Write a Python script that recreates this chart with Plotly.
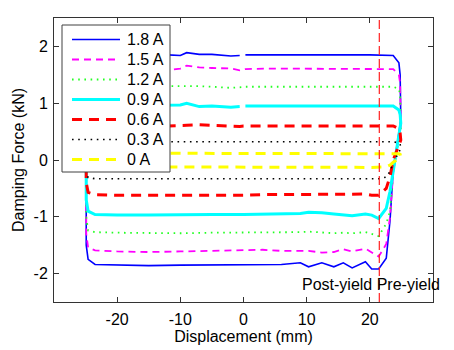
import plotly.graph_objects as go

# ---- data ----
CURRENTS = ["1.8 A", "1.5 A", "1.2 A", "0.9 A", "0.6 A", "0.3 A", "0 A"]

# displacement (mm) along the loop: upper branch (moving right), right turn, lower branch (moving left)
X_UPPER = [-24.9, -24.3, -20, -15, -12, -10, -9, -7, -5, -2, -0.6, 0, 0.3, 4, 8, 12, 16, 20, 23.7, 24.6]
X_TURN = [24.8, 24.9, 23.7, 23.2, 22.6]
X_LOWER = [21.4, 20.3, 19.3, 17.2, 15.8, 14.3, 12.4, 10.3, 9, 6, 3, 0, -5, -10, -15, -20, -23.5, -24.6, -24.9]

# damping force (kN)
F18_UP = [1.60, 1.83, 1.85, 1.86, 1.85, 1.84, 1.89, 1.86, 1.86, 1.83, 1.84, None, 1.85, 1.85, 1.86, 1.85, 1.85, 1.85, 1.84, 1.71]
F18_TURN = [1.50, 0.70, -0.18, -1.06, -1.73]
F18_LO = [-1.92, -1.92, -1.79, -1.90, -1.81, -1.88, -1.81, -1.88, -1.81, -1.84, -1.84, -1.84, -1.85, -1.85, -1.86, -1.85, -1.84, -1.75, -1.50]

F15_UP = [1.40, 1.60, 1.60, 1.60, 1.58, 1.61, 1.66, 1.63, 1.62, 1.61, 1.58, 1.59, 1.60, 1.61, 1.61, 1.61, 1.61, 1.61, 1.60, 1.50]
F15_TURN = [1.35, 0.60, -0.20, -1.00, -1.48]
F15_LO = [-1.70, -1.62, -1.56, -1.61, -1.57, -1.62, -1.63, -1.60, -1.60, -1.60, -1.58, -1.59, -1.60, -1.61, -1.62, -1.61, -1.59, -1.54, -1.30]

F12_UP = [1.10, 1.29, 1.30, 1.30, 1.31, 1.31, 1.31, 1.30, 1.29, 1.27, 1.28, 1.29, 1.29, 1.29, 1.29, 1.29, 1.29, 1.29, 1.29, 1.25]
F12_TURN = [1.15, 0.55, -0.20, -0.90, -1.12]
F12_LO = [-1.34, -1.30, -1.27, -1.29, -1.28, -1.29, -1.28, -1.26, -1.27, -1.27, -1.28, -1.28, -1.28, -1.29, -1.29, -1.28, -1.27, -1.24, -1.00]

F09_UP = [0.80, 0.95, 0.96, 0.96, 0.96, 0.97, 1.00, 0.94, 0.95, 0.93, 0.94, None, 0.95, 0.95, 0.95, 0.95, 0.95, 0.95, 0.95, 0.88]
F09_TURN = [0.80, 0.65, -0.19, -0.55, -0.85]
F09_LO = [-1.03, -0.97, -0.95, -0.98, -0.96, -0.95, -0.93, -0.92, -0.94, -0.95, -0.95, -0.96, -0.96, -0.97, -0.97, -0.97, -0.96, -0.90, -0.70]

F06_UP = [0.45, 0.60, 0.60, 0.61, 0.60, 0.60, 0.61, 0.62, 0.61, 0.60, 0.59, 0.60, 0.60, 0.60, 0.60, 0.60, 0.60, 0.60, 0.60, 0.55]
F06_TURN = [0.47, 0.35, 0.00, -0.29, -0.50]
F06_LO = [-0.62, -0.62, -0.60, -0.60, -0.60, -0.61, -0.60, -0.60, -0.60, -0.61, -0.61, -0.62, -0.62, -0.63, -0.63, -0.62, -0.61, -0.57, -0.40]

F03_UP = [0.25, 0.32, 0.32, 0.32, 0.32, 0.32, 0.33, 0.32, 0.32, 0.32, 0.32, 0.32, 0.32, 0.32, 0.32, 0.32, 0.32, 0.32, 0.32, 0.30]
F03_TURN = [0.28, 0.20, -0.05, -0.20, -0.30]
F03_LO = [-0.33, -0.33, -0.33, -0.33, -0.33, -0.33, -0.33, -0.33, -0.33, -0.33, -0.33, -0.33, -0.33, -0.33, -0.33, -0.33, -0.33, -0.31, -0.20]

F00_UP = [0.08, 0.12, 0.12, 0.12, 0.12, 0.12, 0.12, 0.12, 0.12, 0.12, 0.12, 0.12, 0.12, 0.12, 0.12, 0.12, 0.12, 0.12, 0.12, 0.11]
F00_TURN = [0.10, 0.05, -0.04, -0.09, -0.12]
F00_LO = [-0.13, -0.13, -0.13, -0.13, -0.13, -0.13, -0.13, -0.13, -0.13, -0.13, -0.13, -0.13, -0.13, -0.13, -0.13, -0.13, -0.13, -0.12, -0.08]

X_TICKS = [-20, -10, 0, 10, 20]
X_TICK_LABELS = ["-20", "-10", "0", "10", "20"]
Y_TICKS = [-2, -1, 0, 1, 2]
Y_TICK_LABELS = ["-2", "-1", "0", "1", "2"]

POST_YIELD_LIMIT = 21.5  # mm, boundary marker

SERIES = [
    (F18_UP, F18_TURN, F18_LO),
    (F15_UP, F15_TURN, F15_LO),
    (F12_UP, F12_TURN, F12_LO),
    (F09_UP, F09_TURN, F09_LO),
    (F06_UP, F06_TURN, F06_LO),
    (F03_UP, F03_TURN, F03_LO),
    (F00_UP, F00_TURN, F00_LO),
]

STYLES = [
    dict(color="#0000FF", width=1.6, dash="solid"),
    dict(color="#FF00FF", width=1.8, dash="7px,5px"),
    dict(color="#22FF22", width=1.8, dash="1.6px,4.6px"),
    dict(color="#00FFFF", width=3.0, dash="solid"),
    dict(color="#FF0000", width=3.0, dash="10px,7px"),
    dict(color="#000000", width=1.6, dash="1.6px,4.6px"),
    dict(color="#FFFF00", width=3.0, dash="10px,7px"),
]

# the page body has an 8px default margin, so the figure is sized to fit the window
PAGE_OFFSET = 8
W, H = 454 - PAGE_OFFSET, 350 - PAGE_OFFSET
# plot area in window pixels: x 54..433, y 18..302
ML, MT = 54 - PAGE_OFFSET, 18 - PAGE_OFFSET
MR, MB = W - (433 - PAGE_OFFSET), H - (302 - PAGE_OFFSET)
PW, PH = W - ML - MR, H - MT - MB


def px_x(p):
    """window pixel x -> paper coordinate"""
    return (p - PAGE_OFFSET - ML) / PW


def px_y(p):
    """window pixel y -> paper coordinate"""
    return 1 - (p - PAGE_OFFSET - MT) / PH


fig = go.Figure()
x_loop = X_UPPER + X_TURN + X_LOWER + [X_UPPER[0]]
for name, (up, turn, lo), st in zip(CURRENTS, SERIES, STYLES):
    y_loop = up + turn + lo + [up[0]]
    fig.add_trace(go.Scatter(x=x_loop, y=y_loop, mode="lines", name=name,
                             line=st, connectgaps=False, showlegend=False))

fig.add_shape(type="line", x0=POST_YIELD_LIMIT, x1=POST_YIELD_LIMIT, xref="x",
              y0=0, y1=1, yref="paper",
              line=dict(color="#FF2020", width=1.2, dash="9px,4px"))

# legend drawn in the MATLAB style (box, long line samples)
fig.add_shape(type="rect", xref="paper", yref="paper",
              x0=px_x(62), x1=px_x(170), y0=px_y(172), y1=px_y(25),
              fillcolor="white", line=dict(color="#404040", width=1))
for i, (name, st) in enumerate(zip(CURRENTS, STYLES)):
    yc = px_y(39.5 + 20 * i)
    fig.add_shape(type="line", xref="paper", yref="paper",
                  x0=px_x(72), x1=px_x(120), y0=yc, y1=yc, line=st)
    fig.add_annotation(xref="paper", yref="paper", x=px_x(125), y=yc, text=name,
                       showarrow=False, xanchor="left", yanchor="middle",
                       font=dict(size=16, color="#000000"))

fig.add_annotation(xref="paper", yref="y", x=px_x(300), y=-2.2, text="Post-yield Pre-yield",
                   showarrow=False, xanchor="left", yanchor="middle",
                   font=dict(size=16, color="#000000"))

axis_common = dict(showline=True, linecolor="#333333", linewidth=1, mirror="ticks",
                   ticks="inside", ticklen=5, tickcolor="#333333", showgrid=False,
                   zeroline=False, automargin=False, tickfont=dict(size=16, color="#000000"))

fig.update_layout(
    width=W, height=H,
    margin=dict(l=ML, r=MR, t=MT, b=MB),
    paper_bgcolor="white", plot_bgcolor="white",
    font=dict(family="Liberation Sans, Arial, sans-serif", size=16, color="#000000"),
    showlegend=False,
    xaxis=dict(range=[-30, 30], tickvals=X_TICKS, ticktext=X_TICK_LABELS,
               title=dict(text="Displacement (mm)", font=dict(size=16), standoff=0),
               ticklabelstandoff=3, **axis_common),
    yaxis=dict(range=[-2.5, 2.5], tickvals=Y_TICKS, ticktext=Y_TICK_LABELS,
               title=dict(text="Damping Force (kN)", font=dict(size=16), standoff=4),
               ticklabelstandoff=2, **axis_common),
)

fig.write_html("out.html")
